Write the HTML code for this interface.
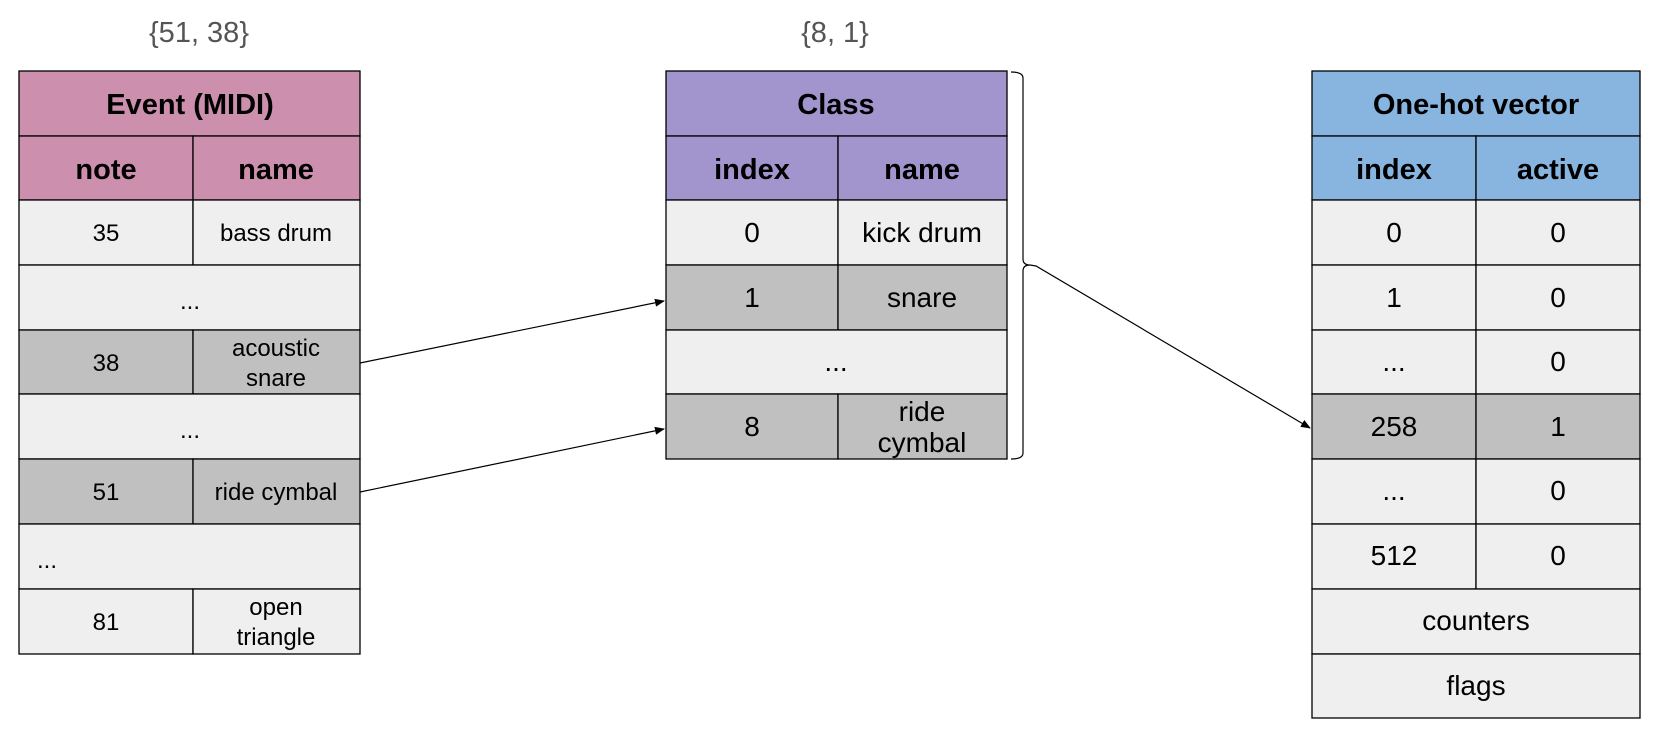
<!DOCTYPE html>
<html><head><meta charset="utf-8"><style>
html,body{margin:0;padding:0;background:#fff;}
svg{display:block;font-family:"Liberation Sans",sans-serif;}
</style></head><body>
<svg width="1672" height="735" viewBox="0 0 1672 735" xmlns="http://www.w3.org/2000/svg">
<defs><marker id="ah" markerWidth="10" markerHeight="8" refX="9" refY="4" orient="auto" markerUnits="userSpaceOnUse"><path d="M0,0 L10,4 L0,8 z" fill="#000"/></marker></defs>
<g stroke="#000" stroke-width="1.3">
<rect x="19" y="71" width="341" height="65" fill="#cc8fad"/>
<rect x="19" y="136" width="174" height="64" fill="#cc8fad"/><rect x="193" y="136" width="167" height="64" fill="#cc8fad"/>
<rect x="19" y="200" width="174" height="65" fill="#efefef"/><rect x="193" y="200" width="167" height="65" fill="#efefef"/>
<rect x="19" y="265" width="341" height="65" fill="#efefef"/>
<rect x="19" y="330" width="174" height="64" fill="#c0c0c0"/><rect x="193" y="330" width="167" height="64" fill="#c0c0c0"/>
<rect x="19" y="394" width="341" height="65" fill="#efefef"/>
<rect x="19" y="459" width="174" height="65" fill="#c0c0c0"/><rect x="193" y="459" width="167" height="65" fill="#c0c0c0"/>
<rect x="19" y="524" width="341" height="65" fill="#efefef"/>
<rect x="19" y="589" width="174" height="65" fill="#efefef"/><rect x="193" y="589" width="167" height="65" fill="#efefef"/>
<rect x="666" y="71" width="341" height="65" fill="#a294cc"/>
<rect x="666" y="136" width="172" height="64" fill="#a294cc"/><rect x="838" y="136" width="169" height="64" fill="#a294cc"/>
<rect x="666" y="200" width="172" height="65" fill="#efefef"/><rect x="838" y="200" width="169" height="65" fill="#efefef"/>
<rect x="666" y="265" width="172" height="65" fill="#c0c0c0"/><rect x="838" y="265" width="169" height="65" fill="#c0c0c0"/>
<rect x="666" y="330" width="341" height="64" fill="#efefef"/>
<rect x="666" y="394" width="172" height="65" fill="#c0c0c0"/><rect x="838" y="394" width="169" height="65" fill="#c0c0c0"/>
<rect x="1312" y="71" width="328" height="65" fill="#88b5df"/>
<rect x="1312" y="136" width="164" height="64" fill="#88b5df"/><rect x="1476" y="136" width="164" height="64" fill="#88b5df"/>
<rect x="1312" y="200" width="164" height="65" fill="#efefef"/><rect x="1476" y="200" width="164" height="65" fill="#efefef"/>
<rect x="1312" y="265" width="164" height="65" fill="#efefef"/><rect x="1476" y="265" width="164" height="65" fill="#efefef"/>
<rect x="1312" y="330" width="164" height="64" fill="#efefef"/><rect x="1476" y="330" width="164" height="64" fill="#efefef"/>
<rect x="1312" y="394" width="164" height="65" fill="#c0c0c0"/><rect x="1476" y="394" width="164" height="65" fill="#c0c0c0"/>
<rect x="1312" y="459" width="164" height="65" fill="#efefef"/><rect x="1476" y="459" width="164" height="65" fill="#efefef"/>
<rect x="1312" y="524" width="164" height="65" fill="#efefef"/><rect x="1476" y="524" width="164" height="65" fill="#efefef"/>
<rect x="1312" y="589" width="328" height="65" fill="#efefef"/>
<rect x="1312" y="654" width="328" height="64" fill="#efefef"/>
</g>
<path d="M1011,72 Q1023,72 1023,78 L1023,259 Q1023,265 1030,265 Q1023,265 1023,271 L1023,453 Q1023,459 1011,459" fill="none" stroke="#000" stroke-width="1.2"/>
<g stroke="#000" stroke-width="1.2" fill="none">
<line x1="360" y1="363" x2="664" y2="301" marker-end="url(#ah)"/>
<line x1="360" y1="492" x2="664" y2="429" marker-end="url(#ah)"/>
<polyline points="1030,265 1036,266 1310,428" marker-end="url(#ah)"/>
</g>
<g text-anchor="middle" font-size="29" fill="#555">
<text x="199" y="42">{51, 38}</text>
<text x="835" y="42">{8, 1}</text>
</g>
<g text-anchor="middle" font-weight="bold" font-size="29" fill="#000">
<text x="190" y="114">Event (MIDI)</text>
<text x="106" y="179">note</text><text x="276" y="179">name</text>
<text x="836" y="114">Class</text>
<text x="752" y="179">index</text><text x="922" y="179">name</text>
<text x="1476" y="114">One-hot vector</text>
<text x="1394" y="179">index</text><text x="1558" y="179">active</text>
</g>
<g text-anchor="middle" font-size="24" fill="#000">
<text x="106" y="241">35</text><text x="276" y="241">bass drum</text>
<text x="190" y="309">...</text>
<text x="106" y="371">38</text><text x="276" y="356">acoustic</text><text x="276" y="386">snare</text>
<text x="190" y="438">...</text>
<text x="106" y="500">51</text><text x="276" y="500">ride cymbal</text>
<text x="47" y="568">...</text>
<text x="106" y="630">81</text><text x="276" y="615">open</text><text x="276" y="645">triangle</text>
</g>
<g text-anchor="middle" font-size="28" fill="#000">
<text x="752" y="242">0</text><text x="922" y="242">kick drum</text>
<text x="752" y="307">1</text><text x="922" y="307">snare</text>
<text x="836" y="371">...</text>
<text x="752" y="436">8</text><text x="922" y="421">ride</text><text x="922" y="452">cymbal</text>
<text x="1394" y="242">0</text><text x="1558" y="242">0</text>
<text x="1394" y="307">1</text><text x="1558" y="307">0</text>
<text x="1394" y="371">...</text><text x="1558" y="371">0</text>
<text x="1394" y="436">258</text><text x="1558" y="436">1</text>
<text x="1394" y="500">...</text><text x="1558" y="500">0</text>
<text x="1394" y="565">512</text><text x="1558" y="565">0</text>
<text x="1476" y="630">counters</text>
<text x="1476" y="695">flags</text>
</g>
</svg>
</body></html>
